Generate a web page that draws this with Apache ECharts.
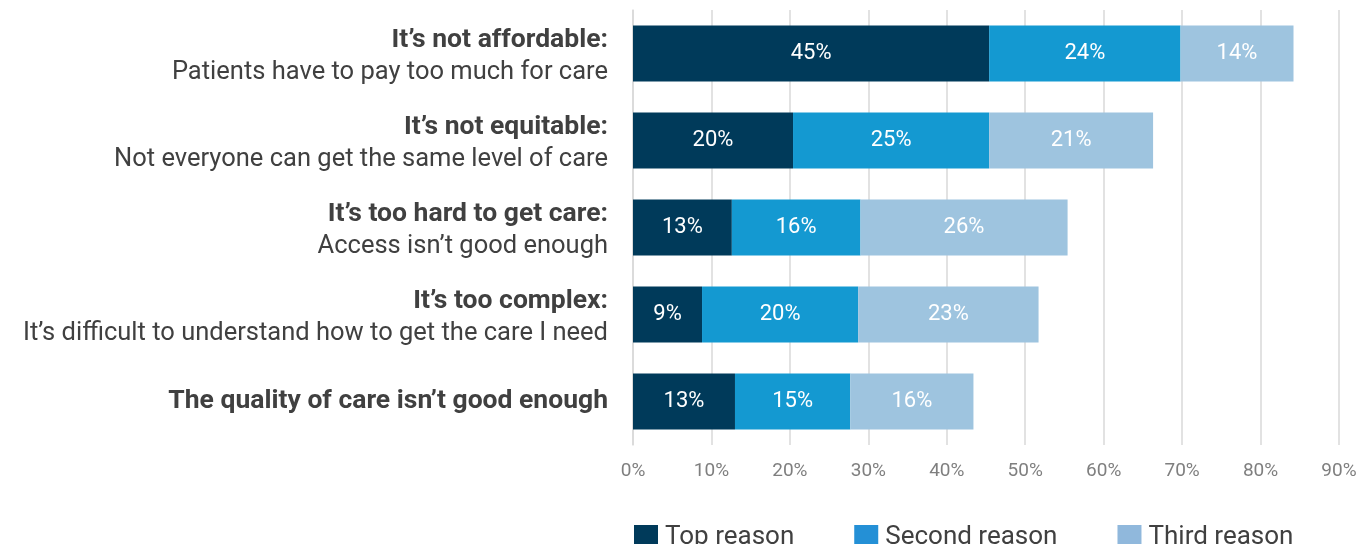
<!DOCTYPE html>
<html>
<head>
<meta charset="utf-8">
<script src="https://cdn.jsdelivr.net/npm/echarts@6/dist/echarts.min.js"></script>
<style>
  html, body { margin: 0; padding: 0; background: #fff; }
  #chart { width: 1361px; height: 544px; }
</style>
</head>
<body>
<div id="chart"></div>
<script>
// row titles (bold) and sub lines
const titles = [
  'It\u2019s not affordable:',
  'It\u2019s not equitable:',
  'It\u2019s too hard to get care:',
  'It\u2019s too complex:',
  'The quality of care isn\u2019t good enough'
]
const subtitles = [
  'Patients have to pay too much for care',
  'Not everyone can get the same level of care',
  'Access isn\u2019t good enough',
  'It\u2019s difficult to understand how to get the care I need',
  ''
]
const seriesNames = ['Top reason', 'Second reason', 'Third reason']
const topReason = [45.4, 20.4, 12.6, 8.8, 13.0]
const secondReason = [24.4, 25.0, 16.4, 19.9, 14.7]
const thirdReason = [14.4, 20.9, 26.4, 23.0, 15.7]
const tickValues = [0, 10, 20, 30, 40, 50, 60, 70, 80, 90]

const colors = ['#003a5a', '#1499d1', '#9ec4df']
const legendColors = ['#003a5a', '#2490d6', '#90b8dc']
const font = 'Roboto, "Open Sans", sans-serif'

const chart = echarts.init(document.getElementById('chart'))

const categories = titles.map((t, i) => i)

function bar(name, data, color) {
  return {
    name: name,
    type: 'bar',
    stack: 'total',
    data: data,
    barWidth: 56,
    itemStyle: { color: color },
    label: {
      show: true,
      position: 'inside',
      color: '#fff',
      fontFamily: font,
      fontSize: 22,
      formatter: p => Math.round(p.value) + '%'
    }
  }
}

chart.setOption({
  animation: false,
  textStyle: { fontFamily: font },
  grid: { left: 633, right: 22, top: 10, bottom: 99, containLabel: false },
  legend: {
    left: 629,
    top: 519,
    itemWidth: 24,
    itemHeight: 24,
    itemGap: 60,
    icon: 'rect',
    textStyle: { fontSize: 26, color: '#404040', fontFamily: font, padding: [-4, 0, 2, 2] },
    data: seriesNames.map((n, i) => ({ name: n, itemStyle: { color: legendColors[i] } }))
  },
  xAxis: {
    type: 'value',
    min: tickValues[0],
    max: tickValues[tickValues.length - 1],
    interval: 10,
    axisLine: { show: false },
    axisTick: { show: false },
    splitLine: { show: true, lineStyle: { color: '#d9d9d9', width: 1.5 } },
    axisLabel: {
      color: '#7f7f7f',
      fontSize: 19,
      margin: 17,
      fontFamily: font,
      formatter: v => v + '%'
    }
  },
  yAxis: {
    type: 'category',
    inverse: true,
    data: categories,
    axisLine: { show: true, lineStyle: { color: '#d9d9d9', width: 1.5 } },
    axisTick: { show: false },
    axisLabel: {
      margin: 25,
      align: 'right',
      formatter: v => {
        const i = Number(v)
        // small spacer on top pushes two-line labels down a little
        return subtitles[i]
          ? '{s| }\n{b|' + titles[i] + '}\n{n|' + subtitles[i] + '}'
          : '{b|' + titles[i] + '}'
      },
      rich: {
        s: { fontSize: 4, lineHeight: 6 },
        b: { fontSize: 26.5, fontWeight: 'bold', color: '#404040', fontFamily: font, lineHeight: 32, align: 'right' },
        n: { fontSize: 25.5, color: '#404040', fontFamily: font, lineHeight: 32, align: 'right' }
      }
    }
  },
  series: [
    bar(seriesNames[0], topReason, colors[0]),
    bar(seriesNames[1], secondReason, colors[1]),
    bar(seriesNames[2], thirdReason, colors[2])
  ]
})
</script>
</body>
</html>
